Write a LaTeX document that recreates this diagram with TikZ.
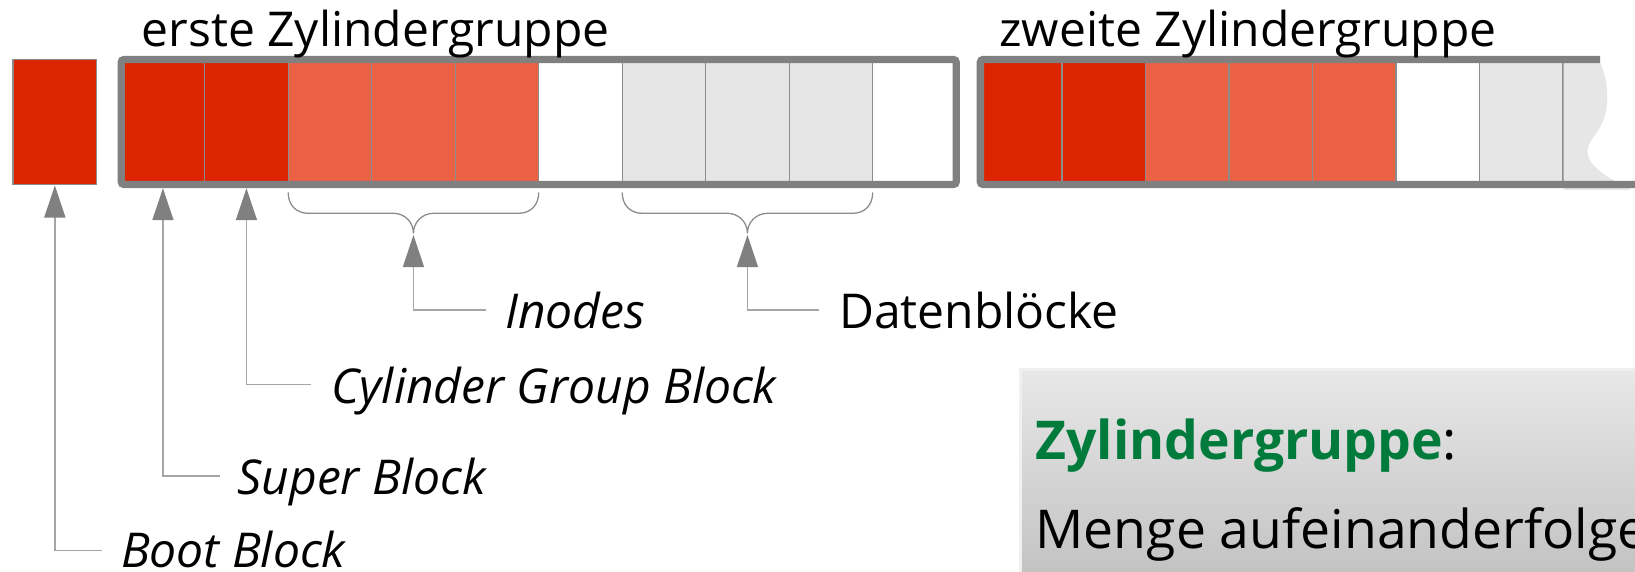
\documentclass[tikz,border=0pt]{standalone}
\usepackage{fontspec}
\setmainfont{Open Sans}
\usetikzlibrary{arrows.meta}
\definecolor{darkred}{HTML}{DC2400}
\definecolor{lightred}{HTML}{EA6143}
\definecolor{datagray}{HTML}{E6E6E6}
\definecolor{framegray}{HTML}{808080}
\definecolor{cellline}{HTML}{8C8C8C}
\definecolor{linegray}{HTML}{A6A6A6}
\definecolor{arrowgray}{HTML}{808080}
\definecolor{bracegray}{HTML}{8C8C8C}
\definecolor{titlegreen}{HTML}{007B3C}
\definecolor{boxtop}{HTML}{E8E8E8}
\definecolor{boxbot}{HTML}{BEBEBE}
\newcommand\bigfont{\fontsize{48}{57}\selectfont}
\newcommand\boxfont{\fontsize{53.5}{64}\selectfont}
\newcommand\cgbrace[3]{%
  \draw[bracestyle] (#1,192.5) .. controls (#1,205) and (#1+8,213.3) .. (#1+20,213.3)
    -- (#3-20,213.3) .. controls (#3-9,213.3) and (#3,222) .. (#3,233.3)
    .. controls (#3,222) and (#3+9,213.3) .. (#3+20,213.3)
    -- (#2-20,213.3) .. controls (#2-8,213.3) and (#2,205) .. (#2,192.5);}
\tikzset{
  cellbox/.style={draw=cellline, line width=1.1pt, minimum width=83.5pt, minimum height=125pt,
    inner sep=0pt, outer sep=0pt, anchor=north west},
  dark/.style={cellbox, fill=darkred},
  light/.style={cellbox, fill=lightred},
  free/.style={cellbox, draw=none},
  data/.style={cellbox, fill=datagray},
  framestyle/.style={draw=framegray, line width=7.4pt, rounded corners=3pt},
  conn/.style={draw=linegray, line width=1.5pt, -{Triangle[length=32pt,width=21pt,color=arrowgray]}},
  bracestyle/.style={draw=bracegray, line width=1.3pt},
  lbl/.style={anchor=base west, inner sep=0pt, outer sep=0pt, font=\bigfont\itshape},
  plainlbl/.style={anchor=base west, inner sep=0pt, outer sep=0pt, font=\bigfont},
  boxlbl/.style={anchor=base west, inner sep=0pt, outer sep=0pt, font=\boxfont},
}
\begin{document}
\begin{tikzpicture}[x=1pt,y=-1pt]
\useasboundingbox (0,0) rectangle (1635,572);
\clip (0,0) rectangle (1635,572);

% definition box
\node[anchor=north west, minimum width=640pt, minimum height=230pt, inner sep=0pt,
  top color=boxtop, bottom color=boxbot, draw=black!6, line width=3pt] (defbox) at (1019,368) {};
\node[boxlbl] (deftitle) at (1035.5,459) {\textbf{\color{titlegreen}Zylindergruppe}:};
\node[boxlbl] (deftext) at (1035.5,548) {Menge aufeinanderfolge};

% boot block
\node[dark, line width=1.5pt] (boot) at (13.1,59.5) {};

% first cylinder group
\foreach \s [count=\i] in {dark,dark,light,light,light,free,data,data,data,free}
  \node[\s] (a\i) at ({121.2+83.5*(\i-1)},59.5) {};
% second cylinder group
\foreach \s [count=\i] in {dark,dark,light,light,light,free,data}
  \node[\s] (b\i) at ({978.5+83.5*(\i-1)},59.5) {};
\fill[datagray] (1563.5,62) -- (1600,62) .. controls (1610,85) and (1611,115) .. (1595,135)
  .. controls (1578,155) and (1590,170) .. (1632,190) -- (1563.5,190) -- cycle;

% frames
\draw[framestyle] (a1.north west) rectangle (a10.south east);
\draw[framestyle] (1600,59.5) -- ([xshift=1.8pt]b1.north west) -- ([xshift=1.8pt]b1.south west) -- (1640,184.5);

% titles
\node[plainlbl] (title1) at (141.8,47) {erste Zylindergruppe};
\node[plainlbl] (title2) at (999.5,47) {zweite Zylindergruppe};

% braces
\cgbrace{288.2}{538.7}{413.45}
\cgbrace{622.2}{872.7}{747.45}
\coordinate (inTip) at (413.45,235);
\coordinate (dataTip) at (747.45,235);

% labels
\node[lbl] (inodes) at (505,328) {Inodes};
\node[plainlbl] (daten) at (839,328) {Datenblöcke};
\node[lbl] (cgb) at (331.6,403) {Cylinder Group Block};
\node[lbl] (sb) at (237.5,494.5) {Super Block};
\node[lbl] (bb) at (121,567.5) {Boot Block};

% connectors
\draw[conn] ([xshift=-19pt,yshift=18pt]inodes.base west) -| (inTip);
\draw[conn] ([xshift=-20pt,yshift=18pt]daten.base west) -| (dataTip);
\draw[conn] ([xshift=-21pt,yshift=18.5pt]cgb.base west) -| ([yshift=-3.7pt]a2.south);
\draw[conn] ([xshift=-18pt,yshift=18.3pt]sb.base west) -| ([yshift=-3.7pt]a1.south);
\draw[conn] ([xshift=-19pt,yshift=16.8pt]bb.base west) -| ([yshift=-1pt]boot.south);
\end{tikzpicture}
\end{document}
